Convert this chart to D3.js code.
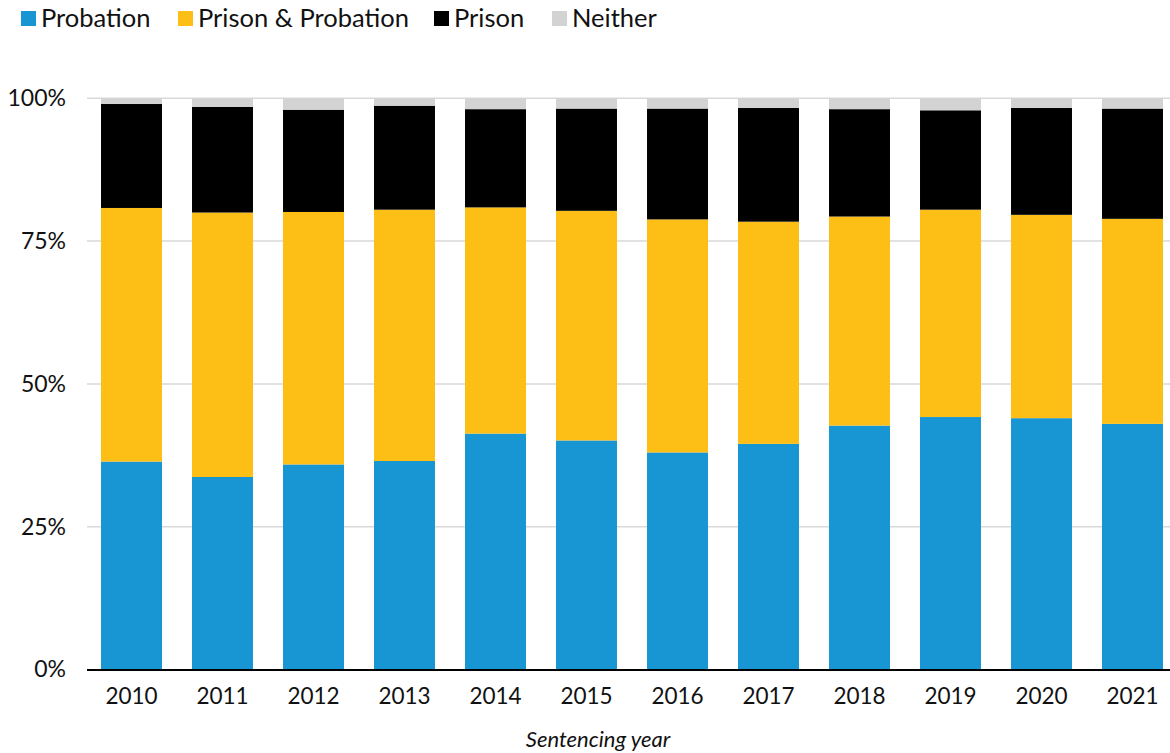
<!DOCTYPE html>
<html>
<head>
<meta charset="utf-8">
<script src="https://cdn.jsdelivr.net/npm/d3@7"></script>
<style>
  html, body { margin: 0; padding: 0; background: #fff; }
  svg { display: block; font-family: Lato, "Open Sans", sans-serif; }
</style>
</head>
<body>
<svg id="chart" width="1170" height="753"></svg>
<script>
// Sentencing outcomes by year, as a share of all sentences (%)
const years = ["2010", "2011", "2012", "2013", "2014", "2015", "2016", "2017", "2018", "2019", "2020", "2021"];
const probation        = [36.4, 33.7, 35.9, 36.5, 41.3, 40.1, 38.0, 39.5, 42.7, 44.2, 44.0, 43.0];
const prisonProbation  = [44.4, 46.3, 44.2, 44.0, 39.6, 40.2, 40.8, 38.9, 36.6, 36.3, 35.6, 35.9];
const prison           = [18.2, 18.5, 17.9, 18.2, 17.2, 17.9, 19.4, 19.9, 18.8, 17.4, 18.7, 19.3];
const neither          = [1.0, 1.5, 2.0, 1.3, 1.9, 1.8, 1.8, 1.7, 1.9, 2.1, 1.7, 1.8];
const seriesNames  = ["Probation", "Prison & Probation", "Prison", "Neither"];
const seriesColors = ["#1896d3", "#fdbf15", "#000000", "#d3d3d3"];
const yTicks = [0, 25, 50, 75, 100];

const svg = d3.select("#chart");
const plot = { left: 87, right: 1177, top: 98.3, bottom: 669.5 };

const rows = years.map((y, i) => ({
  year: y,
  "Probation": probation[i],
  "Prison & Probation": prisonProbation[i],
  "Prison": prison[i],
  "Neither": neither[i]
}));
const stacked = d3.stack().keys(seriesNames)(rows);

const x = d3.scaleBand().domain(years)
  .range([plot.left, plot.right])
  .paddingInner(0.33).paddingOuter(0.154);
const y = d3.scaleLinear().domain([0, 100]).range([plot.bottom, plot.top]);
const color = d3.scaleOrdinal().domain(seriesNames).range(seriesColors);

// horizontal gridlines
svg.append("g").selectAll("line").data(yTicks.filter(t => t > 0)).join("line")
  .attr("x1", plot.left).attr("x2", 1170)
  .attr("y1", d => y(d)).attr("y2", d => y(d))
  .attr("stroke", "#d9d9d9").attr("stroke-width", 1.5);

// stacked bars
svg.append("g").selectAll("g").data(stacked).join("g")
  .attr("fill", d => color(d.key))
  .selectAll("rect").data(d => d).join("rect")
  .attr("x", d => x(d.data.year))
  .attr("width", x.bandwidth())
  .attr("y", d => y(d[1]))
  .attr("height", d => y(d[0]) - y(d[1]));

// y axis labels
const yAxis = d3.axisLeft(y).tickValues(yTicks).tickFormat(d => d + "%").tickSize(0).tickPadding(21);
svg.append("g").attr("transform", `translate(${plot.left},0)`).call(yAxis)
  .call(g => g.select(".domain").remove())
  .selectAll("text")
  .attr("font-family", "Lato, sans-serif").attr("font-size", 23).attr("fill", "#111");

// x axis
const xAxis = d3.axisBottom(x).tickSize(0).tickPadding(19);
svg.append("g").attr("transform", `translate(0,${plot.bottom})`).call(xAxis)
  .call(g => g.select(".domain").remove())
  .selectAll("text")
  .attr("font-family", "Lato, sans-serif").attr("font-size", 22.5).attr("fill", "#111");
svg.append("line")
  .attr("x1", plot.left).attr("x2", 1170)
  .attr("y1", plot.bottom + 0.5).attr("y2", plot.bottom + 0.5)
  .attr("stroke", "#000").attr("stroke-width", 2);

// axis title
svg.append("text")
  .attr("x", 598).attr("y", 747)
  .attr("text-anchor", "middle")
  .attr("font-style", "italic").attr("font-size", 22).attr("fill", "#111")
  .text("Sentencing year");

// legend
const legendX = [21, 178, 434, 552];
const legend = svg.append("g").selectAll("g").data(seriesNames).join("g")
  .attr("transform", (d, i) => `translate(${legendX[i]},0)`);
legend.append("rect")
  .attr("x", 0).attr("y", 11).attr("width", 15).attr("height", 15)
  .attr("fill", d => color(d));
legend.append("text")
  .attr("x", 20).attr("y", 27)
  .attr("font-size", 25.5).attr("fill", "#111")
  .text(d => d);
</script>
</body>
</html>
